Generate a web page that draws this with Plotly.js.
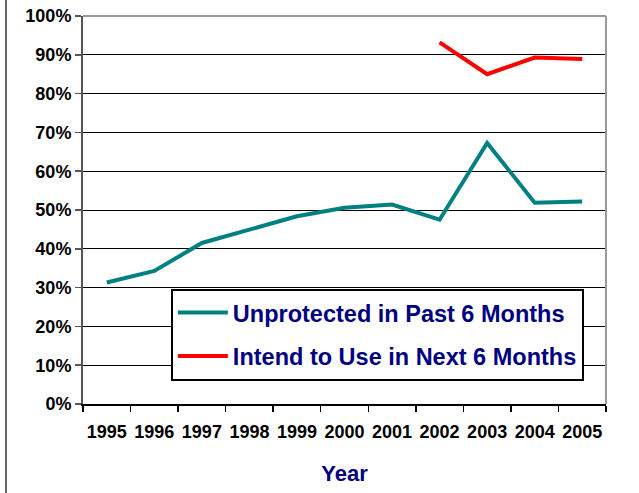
<!DOCTYPE html>
<html>
<head>
<meta charset="utf-8">
<script src="https://cdn.plot.ly/plotly-3.0.1.min.js"></script>
<style>html,body{margin:0;padding:0;background:#fff;}#chart{width:639px;height:493px;}</style>
</head>
<body>
<div id="chart"></div>
<script>
const years = ["1995","1996","1997","1998","1999","2000","2001","2002","2003","2004","2005"];
const unprotected = [0.313, 0.343, 0.415, 0.450, 0.484, 0.506, 0.514, 0.475, 0.673, 0.519, 0.522];
const intendYears = ["2002","2003","2004","2005"];
const intend = [0.932, 0.850, 0.893, 0.889];
const yTicks = [0,0.1,0.2,0.3,0.4,0.5,0.6,0.7,0.8,0.9,1.0];
const yTickText = ["0%","10%","20%","30%","40%","50%","60%","70%","80%","90%","100%"];

const traces = [
  {x: years, y: unprotected, type: 'scatter', mode: 'lines', name: 'Unprotected in Past 6 Months',
   legendgroup: 'a', line: {color: '#008080', width: 4}},
  {x: intendYears, y: intend, type: 'scatter', mode: 'lines', name: 'Intend to Use in Next 6 Months',
   legendgroup: 'b', line: {color: '#FF0000', width: 4}}
];

const layout = {
  width: 639, height: 493,
  margin: {l: 83, r: 33, t: 16, b: 89},
  paper_bgcolor: '#fff', plot_bgcolor: '#fff',
  font: {family: 'Liberation Sans, Arial, sans-serif', color: '#000'},
  xaxis: {
    type: 'category', categoryorder: 'array', categoryarray: years,
    range: [-0.5, 10.5], showgrid: false, zeroline: false,
    ticks: 'outside', tickson: 'boundaries', ticklen: 6, tickwidth: 1.5, tickcolor: '#000',
    showline: true, linecolor: '#000', linewidth: 1.5, tickangle: 0, ticklabelstandoff: 11,
    tickfont: {size: 18, color: '#000', weight: 'bold'},
    title: {text: 'Year', font: {size: 22, color: '#000080', weight: 'bold'}, standoff: 24}
  },
  yaxis: {
    range: [0, 1], tickvals: yTicks, ticktext: yTickText,
    showgrid: true, gridcolor: '#000', gridwidth: 1, zeroline: false,
    ticks: 'outside', ticklen: 6, tickwidth: 1.5, tickcolor: '#555',
    showline: true, linecolor: '#555', linewidth: 2,
    tickfont: {size: 18, color: '#000', weight: 'bold'}
  },
  showlegend: true,
  legend: {
    x: 0.168, y: 0.297, xanchor: 'left', yanchor: 'top',
    bgcolor: '#fff', bordercolor: '#000', borderwidth: 2,
    traceorder: 'grouped', tracegroupgap: 10, itemwidth: 50,
    font: {size: 23.5, color: '#000080', weight: 'bold'}
  },
  shapes: [
    {type: 'line', xref: 'paper', yref: 'paper', x0: 0, x1: 1, y0: 1, y1: 1, line: {color: '#999', width: 2}},
    {type: 'line', xref: 'paper', yref: 'paper', x0: 1, x1: 1, y0: 0, y1: 1, line: {color: '#999', width: 2}},
    {type: 'line', xref: 'paper', yref: 'paper', x0: -0.1472, x1: -0.1472, y0: -0.23, y1: 1.045, line: {color: '#333', width: 1.5}}
  ]
};

Plotly.newPlot('chart', traces, layout, {displayModeBar: false, staticPlot: true});
</script>
</body>
</html>
